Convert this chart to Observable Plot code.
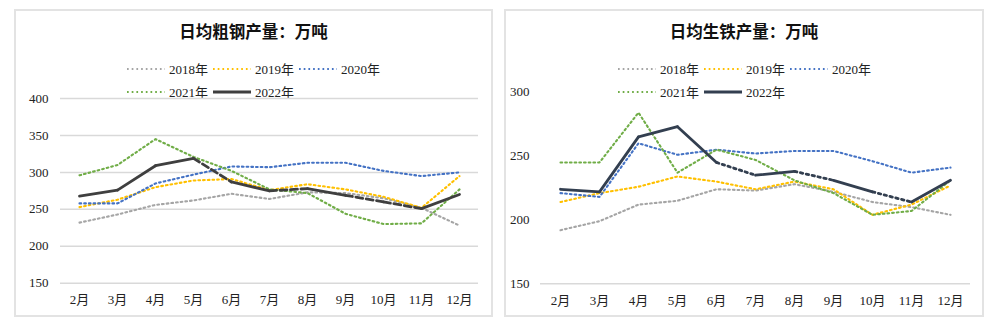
<!DOCTYPE html>
<html><head><meta charset="utf-8">
<script src="https://cdn.jsdelivr.net/npm/d3@7"></script>
<script src="https://cdn.jsdelivr.net/npm/@observablehq/plot@0.6"></script>
<style>
body{margin:0;background:#fff;width:994px;height:325px;position:relative;overflow:hidden;font-family:"Liberation Serif","DejaVu Serif",serif;}
.panel{position:absolute;top:9px;height:308px;box-sizing:border-box;border:2px solid #e3e3e3;background:#fff;}
.title{position:absolute;top:19px;text-align:center;font-family:"Noto Sans CJK SC",sans-serif;font-weight:bold;font-size:16.5px;color:#111;}
.legend{position:absolute;top:57px;width:262px;display:flex;flex-wrap:wrap;font-family:"Liberation Serif","Noto Sans CJK SC",serif;font-size:13px;color:#222;}
.item{display:flex;align-items:center;height:23px;margin-right:5px;}
.item svg{margin-right:4px;}
.plot{position:absolute;top:9px;}
.plot svg text{font-family:"Liberation Serif","Noto Sans CJK SC",serif;}
</style></head>
<body>
<div class="panel" style="left:14px;width:479px"></div>
<div class="panel" style="left:504px;width:480px"></div>
<div class="title" style="left:14px;width:479px">日均粗钢产量：万吨</div>
<div class="title" style="left:504px;width:480px">日均生铁产量：万吨</div>
<div class="legend" id="leg1" style="left:127px"></div>
<div class="legend" id="leg2" style="left:618px"></div>
<div class="plot" id="p1" style="left:14px"></div>
<div class="plot" id="p2" style="left:504px"></div>
<script>
const months = ["2月","3月","4月","5月","6月","7月","8月","9月","10月","11月","12月"];
const years = ["2018年","2019年","2020年","2021年","2022年"];
const colors = ["#A5A5A5","#FFC000","#4472C4","#70AD47","#3F3F3F"];
const colors2 = ["#A5A5A5","#FFC000","#4472C4","#70AD47","#333F50"];

// 日均粗钢产量
const steel2018 = [232,243,256,262,271,264,273,272,265,252,228];
const steel2019 = [253,263,280,289,291,276,284,277,267,252,295];
const steel2020 = [258,258,285,297,308,307,313,313,302,295,300];
const steel2021 = [296,310,345,321,302,277,272,244,230,231,277];
const steel2022 = [268,276,309,319,287,275,278,269,260,251,270];
// segment styles of 2022 line between consecutive months: s = solid, d = dashed
const steel2022Style = ["s","s","s","d","s","d","s","d","d","s"];
const steelTicks = [150,200,250,300,350,400];

// 日均生铁产量
const iron2018 = [192,199,212,215,224,223,228,222,214,210,204];
const iron2019 = [214,221,226,234,230,224,230,224,204,212,227];
const iron2020 = [221,218,260,251,255,252,254,254,246,237,241];
const iron2021 = [245,245,284,237,255,247,231,221,204,207,231];
const iron2022 = [224,222,265,273,245,235,238,231,222,214,231];
const iron2022Style = ["s","s","s","s","d","s","d","s","d","s"];
const ironTicks = [150,200,250,300];

function rows(arr){ return months.map((m,i)=>({m, v:arr[i]})); }
function segs(arr, styles, kind){
  const out=[];
  styles.forEach((s,i)=>{ if(s===kind){ out.push({m:months[i],v:arr[i],seg:i}); out.push({m:months[i+1],v:arr[i+1],seg:i}); } });
  return out;
}

const DOT = "1.7 3";
function legend(id, cols){
  const el=document.getElementById(id);
  years.forEach((y,i)=>{
    const it=document.createElement("div"); it.className="item";
    const last = i===4;
    it.innerHTML=`<svg width="38" height="10"><line x1="0" x2="38" y1="5" y2="5" stroke="${cols[i]}" stroke-width="${last?3:2}" ${last?"":`stroke-dasharray="${DOT}"`}/></svg><span>${y}</span>`;
    el.appendChild(it);
  });
}
legend("leg1", colors);
legend("leg2", colors2);

function chart(series, s22, styles, cols, ticks, opts, dashArr, grid){
  const marks=[];
  marks.push(Plot.ruleY(grid ? ticks : [ticks[0]],{stroke:"#d9d9d9",strokeWidth:1.5}));
  series.forEach((arr,i)=>{
    marks.push(Plot.line(rows(arr),{x:"m",y:"v",stroke:cols[i],strokeWidth:2.1,strokeDasharray:DOT}));
  });
  marks.push(Plot.line(segs(s22,styles,"s"),{x:"m",y:"v",z:"seg",stroke:cols[4],strokeWidth:2.8}));
  marks.push(Plot.line(segs(s22,styles,"d"),{x:"m",y:"v",z:"seg",stroke:cols[4],strokeWidth:2.8,strokeDasharray:dashArr}));
  marks.push(Plot.axisY(ticks,{tickSize:0,tickPadding:opts.yPad,fontSize:13}));
  marks.push(Plot.axisX({tickSize:0,tickPadding:12,fontSize:13}));
  return Plot.plot({
    width:opts.width,height:308,
    marginLeft:opts.ml,marginRight:14,marginTop:opts.mt,marginBottom:opts.mb,
    x:{type:"point",domain:months,padding:0.5,label:null},
    y:{domain:[ticks[0],ticks[ticks.length-1]],label:null},
    style:{fontFamily:"Liberation Serif, Noto Sans CJK SC, serif",fontSize:"13px",color:"#222",background:"transparent"},
    marks
  });
}

document.getElementById("p1").appendChild(
  chart([steel2018,steel2019,steel2020,steel2021],steel2022,steel2022Style,colors,steelTicks,
    {width:478,ml:46,mt:89,mb:34.3,yPad:12},"7 3.5",true));
document.getElementById("p2").appendChild(
  chart([iron2018,iron2019,iron2020,iron2021],iron2022,iron2022Style,colors2,ironTicks,
    {width:480,ml:36,mt:82.7,mb:33.7,yPad:11},"2.5 3.5",false));
</script>
</body></html>
